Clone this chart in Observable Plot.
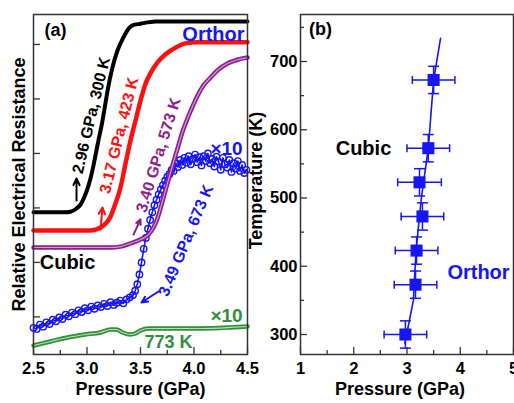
<!DOCTYPE html>
<html><head><meta charset="utf-8">
<script src="https://cdn.jsdelivr.net/npm/d3@7"></script>
<script src="https://cdn.jsdelivr.net/npm/@observablehq/plot@0.6"></script>
<style>
html,body{margin:0;padding:0;background:#fff;}
#wrap{position:relative;width:514px;height:403px;overflow:hidden;background:#fff;}
#wrap > svg{position:absolute;top:0;}
</style></head>
<body><div id="wrap"></div>
<script>
// ---------- Panel (a) data: relative resistance vs pressure ----------
const blackP = [2.50,2.66,2.80,2.846,2.902,2.939,2.977,3.014,3.051,3.079,3.107,3.136,3.164,3.192,3.238,3.285,3.341,3.388,3.425,3.50,3.64,4.50];
const blackR = [2.92,2.92,2.92,2.93,2.99,3.06,3.21,3.41,3.69,3.96,4.24,4.51,4.82,5.15,5.58,5.89,6.13,6.29,6.35,6.38,6.42,6.42];
const redP = [2.50,3.033,3.126,3.173,3.22,3.266,3.313,3.36,3.407,3.453,3.50,3.547,3.593,3.659,3.734,3.827,3.92,4.033,4.50];
const redR = [2.586,2.586,2.64,2.71,2.84,3.08,3.37,3.815,4.24,4.60,4.97,5.28,5.47,5.67,5.82,5.94,6.02,6.04,6.04];
const purpleP = [2.50,3.22,3.313,3.407,3.50,3.575,3.621,3.659,3.687,3.715,3.752,3.799,3.846,3.893,3.939,3.986,4.033,4.089,4.154,4.229,4.313,4.407,4.50];
const purpleR = [2.274,2.274,2.29,2.35,2.42,2.51,2.64,2.81,2.99,3.19,3.45,3.78,4.09,4.40,4.64,4.86,5.06,5.25,5.39,5.54,5.65,5.72,5.76];
const blueP = [2.50,2.53,2.56,2.59,2.62,2.65,2.68,2.71,2.74,2.77,2.80,2.83,2.86,2.89,2.92,2.95,2.98,3.01,3.04,3.07,3.10,3.13,3.16,3.19,3.22,3.25,3.28,3.31,3.34,3.37,3.40,3.43,3.45,3.47,3.49,3.51,3.53,3.55,3.57,3.59,3.61,3.63,3.65,3.67,3.69,3.71,3.73,3.75,3.77,3.79,3.81,3.83,3.85,3.87,3.89,3.91,3.93,3.95,3.97,3.99,4.01,4.03,4.05,4.07,4.09,4.11,4.13,4.15,4.17,4.19,4.21,4.23,4.25,4.27,4.29,4.31,4.33,4.35,4.37,4.39,4.41,4.43,4.45,4.47,4.49];
const blueR = [0.80,0.78,0.86,0.82,0.90,0.87,0.95,0.92,0.99,0.96,1.04,1.01,1.08,1.05,1.12,1.09,1.16,1.12,1.19,1.15,1.21,1.18,1.24,1.20,1.27,1.22,1.26,1.30,1.25,1.32,1.36,1.40,1.48,1.60,1.78,2.00,2.25,2.45,2.62,2.78,2.92,3.05,3.15,3.25,3.34,3.42,3.50,3.57,3.62,3.70,3.68,3.82,3.75,3.88,3.79,3.92,3.83,3.95,3.80,3.90,3.98,3.84,3.93,3.78,3.95,3.86,4.00,3.82,3.90,3.76,3.94,3.85,3.70,3.92,3.80,3.74,3.88,3.66,3.82,3.72,3.86,3.68,3.79,3.64,3.70];
const greenP = [2.50,2.659,2.818,2.986,3.126,3.22,3.276,3.332,3.407,3.453,3.50,3.575,3.734,4.061,4.341,4.50];
const greenR = [0.475,0.549,0.622,0.677,0.714,0.769,0.769,0.714,0.677,0.695,0.75,0.787,0.787,0.787,0.806,0.824];
const aMajorX = [2.5,3.0,3.5,4.0,4.5];
const aMinorX = [2.75,3.25,3.75,4.25];
const aTicksY = [1,2,3,4,5,6];

// ---------- Panel (b) data: transition pressure vs temperature ----------
const bP = [2.97,3.16,3.18,3.29,3.235,3.40,3.50];
const bT = [300,373,423,473,523,573,673];
const bPerr = [0.40,0.40,0.40,0.40,0.41,0.40,0.40];
const bTerr = [20,20,20,20,20,20,20];
const bLineP = [2.96,3.12,3.17,3.27,3.40,3.50,3.63];
const bLineT = [287,350,423,500,573,673,734];
const bMajorX = [1,2,3,4,5];
const bMinorX = [1.5,2.5,3.5,4.5];
const bMajorY = [300,400,500,600,700];
const bMinorY = [350,450,550,650,750];

const FONT = "'Liberation Sans', Arial, Helvetica, sans-serif";
const BLACK = "#000", RED = "#ff1010", PURPLE = "#8e1e8e", BLUE = "#1515f5", GREEN = "#2f8f3a";
const rows = (P, R) => P.map((p, i) => ({p, r: R[i]}));

const hCap = {draw(ctx, size) {const r = Math.sqrt(size / Math.PI); ctx.moveTo(-r, 0); ctx.lineTo(r, 0);}};
const vCap = {draw(ctx, size) {const r = Math.sqrt(size / Math.PI); ctx.moveTo(0, -r); ctx.lineTo(0, r);}};

const txt = {fontWeight: "bold", fontFamily: FONT};

const plotA = Plot.plot({
  width: 255, height: 403,
  marginLeft: 33, marginRight: 8, marginTop: 14, marginBottom: 49,
  style: {background: "transparent", overflow: "visible", fontFamily: FONT, color: "#000"},
  x: {domain: [2.5, 4.5], axis: null},
  y: {domain: [0.31, 6.55], axis: null},
  marks: [
    Plot.line(rows(greenP, greenR), {x: "p", y: "r", stroke: GREEN, strokeWidth: 4.5, curve: "monotone-x"}),
    Plot.line(rows(greenP, greenR), {x: "p", y: "r", stroke: "#b8dfb8", strokeWidth: 1.2, curve: "monotone-x"}),
    Plot.line(rows(blueP, blueR), {x: "p", y: "r", stroke: BLUE, strokeWidth: 1.6}),
    Plot.dot(rows(blueP, blueR), {x: "p", y: "r", r: 3.2, stroke: BLUE, strokeWidth: 1.4, fill: "none"}),
    Plot.line(rows(purpleP, purpleR), {x: "p", y: "r", stroke: PURPLE, strokeWidth: 4.5, curve: "monotone-x"}),
    Plot.line(rows(purpleP, purpleR), {x: "p", y: "r", stroke: "#d49ad4", strokeWidth: 1.2, curve: "monotone-x"}),
    Plot.line(rows(redP, redR), {x: "p", y: "r", stroke: RED, strokeWidth: 4.5, curve: "monotone-x"}),
    Plot.line(rows(blackP, blackR), {x: "p", y: "r", stroke: BLACK, strokeWidth: 4, curve: "monotone-x"}),
    // labels along curves
    Plot.text([{p: 3.040, r: 4.70, t: "2.96 GPa, 300 K"}], {x: "p", y: "r", text: "t", rotate: -76.6, fill: BLACK, fontSize: 16, ...txt}),
    Plot.text([{p: 3.300, r: 4.33, t: "3.17 GPa, 423 K"}], {x: "p", y: "r", text: "t", rotate: -76, fill: RED, fontSize: 16, ...txt}),
    Plot.text([{p: 3.668, r: 3.97, t: "3.40 GPa, 573 K"}], {x: "p", y: "r", text: "t", rotate: -73, fill: PURPLE, fontSize: 16, ...txt}),
    Plot.text([{p: 3.925, r: 2.40, t: "3.49 GPa, 673 K"}], {x: "p", y: "r", text: "t", rotate: -67.4, fill: BLUE, fontSize: 16, ...txt}),
    // arrows
    Plot.arrow([{x1: 2.902, y1: 3.136, x2: 2.902, y2: 3.54}], {x1: "x1", y1: "y1", x2: "x2", y2: "y2", stroke: BLACK, strokeWidth: 2, headLength: 7, headAngle: 50}),
    Plot.arrow([{x1: 3.126, y1: 2.60, x2: 3.145, y2: 3.01}], {x1: "x1", y1: "y1", x2: "x2", y2: "y2", stroke: RED, strokeWidth: 2, headLength: 7, headAngle: 50}),
    Plot.arrow([{x1: 3.435, y1: 2.51, x2: 3.50, y2: 2.79}], {x1: "x1", y1: "y1", x2: "x2", y2: "y2", stroke: PURPLE, strokeWidth: 2, headLength: 7, headAngle: 50}),
    Plot.arrow([{x1: 3.668, y1: 1.466, x2: 3.509, y2: 1.264}], {x1: "x1", y1: "y1", x2: "x2", y2: "y2", stroke: BLUE, strokeWidth: 2, headLength: 7, headAngle: 50}),
    // annotations
    Plot.text(["(a)"], {x: 2.706, y: 6.256, text: d => d, fontSize: 18, fill: BLACK, ...txt}),
    Plot.text(["Orthor"], {x: 4.182, y: 6.18, text: d => d, fontSize: 20, fill: BLUE, ...txt}),
    Plot.text(["Cubic"], {x: 2.818, y: 1.998, text: d => d, fontSize: 20, fill: BLACK, ...txt}),
    Plot.text(["×10"], {x: 4.304, y: 4.09, text: d => d, fontSize: 19, fill: BLUE, ...txt}),
    Plot.text(["×10"], {x: 4.304, y: 1.026, text: d => d, fontSize: 19, fill: GREEN, ...txt}),
    Plot.text(["773 K"], {x: 3.762, y: 0.53, text: d => d, fontSize: 18, fill: GREEN, ...txt}),
    // ticks (inward)
    Plot.ruleX(aMajorX, {x: d => d, insetTop: 333, stroke: "#333", strokeWidth: 1.3}),
    Plot.ruleX(aMinorX, {x: d => d, insetTop: 336, stroke: "#333", strokeWidth: 1.3}),
    Plot.ruleY(aTicksY, {y: d => d, insetRight: 207, stroke: "#333", strokeWidth: 1.3}),
    Plot.axisX(aMajorX, {tickSize: 0, tickPadding: 8, label: null, tickFormat: d3.format(".1f"), fontSize: 16.5, fontWeight: "bold"}),
    Plot.text(["Pressure (GPa)"], {text: d => d, frameAnchor: "bottom", textAnchor: "middle", dy: 40, fontSize: 18, fill: BLACK, ...txt}),
    Plot.text(["Relative Electrical Resistance"], {text: d => d, frameAnchor: "left", textAnchor: "middle", rotate: -90, dx: -14, fontSize: 18, fill: BLACK, ...txt}),
    Plot.frame({stroke: "#333", strokeWidth: 1.5})
  ]
});
plotA.style.left = "0px";

const bRows = bP.map((p, i) => ({p, t: bT[i], pe: bPerr[i], te: bTerr[i]}));
const plotB = Plot.plot({
  width: 264, height: 403,
  marginLeft: 50, marginRight: 1, marginTop: 14, marginBottom: 49,
  style: {background: "transparent", overflow: "visible", fontFamily: FONT, color: "#000"},
  x: {domain: [1, 5], axis: null},
  y: {domain: [270.7, 768.9], axis: null},
  marks: [
    Plot.line(rows(bLineP, bLineT), {x: "p", y: "r", stroke: BLUE, strokeWidth: 1.6}),
    Plot.ruleY(bRows, {y: "t", x1: d => d.p - d.pe, x2: d => d.p + d.pe, stroke: BLUE, strokeWidth: 1.5}),
    Plot.ruleX(bRows, {x: "p", y1: d => d.t - d.te, y2: d => d.t + d.te, stroke: BLUE, strokeWidth: 1.5}),
    Plot.dot(bRows, {x: d => d.p - d.pe, y: "t", symbol: vCap, r: 4, stroke: BLUE, strokeWidth: 1.5}),
    Plot.dot(bRows, {x: d => d.p + d.pe, y: "t", symbol: vCap, r: 4, stroke: BLUE, strokeWidth: 1.5}),
    Plot.dot(bRows, {x: "p", y: d => d.t - d.te, symbol: hCap, r: 5.5, stroke: BLUE, strokeWidth: 1.5}),
    Plot.dot(bRows, {x: "p", y: d => d.t + d.te, symbol: hCap, r: 5.5, stroke: BLUE, strokeWidth: 1.5}),
    Plot.dot(bRows, {x: "p", y: "t", symbol: "square", r: 6.8, fill: BLUE}),
    Plot.text(["(b)"], {x: 1.376, y: 746.9, text: d => d, fontSize: 18, fill: BLACK, ...txt}),
    Plot.text(["Cubic"], {x: 2.183, y: 572.5, text: d => d, fontSize: 20, fill: BLACK, ...txt}),
    Plot.text(["Orthor"], {x: 4.343, y: 390.8, text: d => d, fontSize: 20, fill: BLUE, ...txt}),
    Plot.ruleX(bMajorX, {x: d => d, insetTop: 333, stroke: "#333", strokeWidth: 1.3}),
    Plot.ruleX(bMinorX, {x: d => d, insetTop: 336, stroke: "#333", strokeWidth: 1.3}),
    Plot.ruleY(bMajorY, {y: d => d, insetRight: 206, stroke: "#333", strokeWidth: 1.3}),
    Plot.ruleY(bMinorY, {y: d => d, insetRight: 209, stroke: "#333", strokeWidth: 1.3}),
    Plot.axisX(bMajorX, {tickSize: 0, tickPadding: 8, label: null, tickFormat: d3.format("d"), fontSize: 16.5, fontWeight: "bold"}),
    Plot.axisY(bMajorY, {tickSize: 0, tickPadding: 3, label: null, tickFormat: d3.format("d"), fontSize: 16.5, fontWeight: "bold"}),
    Plot.text(["Pressure (GPa)"], {text: d => d, frameAnchor: "bottom", textAnchor: "middle", dy: 40, dx: -7, fontSize: 18, fill: BLACK, ...txt}),
    Plot.text(["Temperature (K)"], {text: d => d, frameAnchor: "left", textAnchor: "middle", rotate: -90, dx: -44, dy: -4, fontSize: 18, fill: BLACK, ...txt}),
    Plot.frame({stroke: "#333", strokeWidth: 1.5})
  ]
});
plotB.style.left = "250px";

const wrap = document.getElementById("wrap");
wrap.appendChild(plotA);
wrap.appendChild(plotB);
</script></body></html>
